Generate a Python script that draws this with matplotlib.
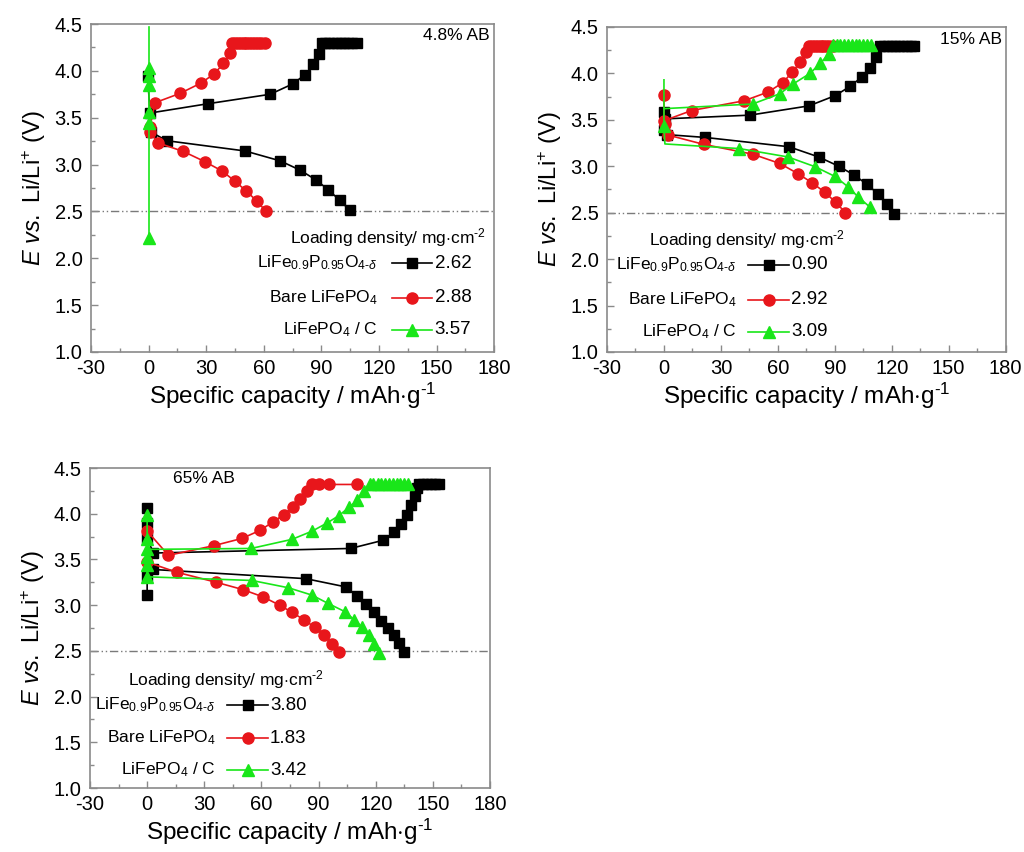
import matplotlib
matplotlib.use("Agg")
import matplotlib.pyplot as plt
from matplotlib.ticker import MultipleLocator

plt.rcParams['font.family'] = ['Liberation Sans', 'DejaVu Sans']
plt.rcParams['mathtext.fontset'] = 'custom'
plt.rcParams['mathtext.rm'] = 'Liberation Sans'
plt.rcParams['mathtext.it'] = 'Liberation Sans:italic'
plt.rcParams['axes.unicode_minus'] = False

#%%
'''charge / discharge curves read for the three carbon contents.
each curve: capacity (mAh/g) and potential (V)'''

# 4.8% AB
a_blk_chg_x = [-0.5, 0.7, 31.1, 63.3, 75, 81.6, 85.9, 88.9, 90.3, 92, 94, 96, 98, 100, 102, 104, 106, 108.5]
a_blk_chg_e = [3.95, 3.55, 3.65, 3.75, 3.86, 3.96, 4.07, 4.18, 4.30, 4.30, 4.30, 4.30, 4.30, 4.30, 4.30, 4.30, 4.30, 4.30]
a_blk_dis_x = [1.0, 9.4, 50.3, 68.5, 79, 87.3, 93.7, 99.5, 105]
a_blk_dis_e = [3.35, 3.255, 3.145, 3.04, 2.94, 2.835, 2.73, 2.62, 2.51]
a_red_chg_x = [0.7, 3.3, 16.4, 27.3, 34.3, 39, 42.5, 43.5, 45, 46.5, 48, 49.5, 51, 52.5, 54, 55.5, 57, 58.5, 60.5]
a_red_chg_e = [3.40, 3.66, 3.76, 3.87, 3.97, 4.08, 4.19, 4.30, 4.30, 4.30, 4.30, 4.30, 4.30, 4.30, 4.30, 4.30, 4.30, 4.30, 4.30]
a_red_dis_x = [0.5, 5.1, 18.1, 29.4, 38.4, 45.1, 50.8, 56.4, 61.2]
a_red_dis_e = [3.35, 3.23, 3.14, 3.03, 2.93, 2.82, 2.72, 2.61, 2.50]
a_grn_x = [0, 0, 0, 0, 0, 0, 0]
a_grn_e = [4.47, 4.03, 3.95, 3.85, 3.56, 3.44, 2.22]

# 15% AB
b_blk_chg_x = [0, 0.5, 45.3, 76.4, 90.2, 98.1, 104.2, 108.5, 111.9, 113.8, 116, 118, 120, 122, 124, 126, 128, 130, 132, 134]
b_blk_chg_e = [3.58, 3.51, 3.55, 3.65, 3.76, 3.86, 3.96, 4.06, 4.18, 4.29, 4.29, 4.29, 4.29, 4.29, 4.29, 4.29, 4.29, 4.29, 4.29, 4.29]
b_blk_dis_x = [0, 1.8, 21.7, 65.8, 81.5, 92.1, 100.2, 107, 112.9, 117.7, 121.2]
b_blk_dis_e = [3.39, 3.34, 3.31, 3.21, 3.10, 3.00, 2.905, 2.805, 2.70, 2.59, 2.49]
b_red_chg_x = [0, 0, 14.6, 42.3, 55, 62.6, 67.5, 71.7, 74.9, 76.5, 78, 79.5, 81, 82.5, 84, 85.5, 87, 89]
b_red_chg_e = [3.77, 3.49, 3.60, 3.705, 3.80, 3.90, 4.01, 4.12, 4.23, 4.29, 4.29, 4.29, 4.29, 4.29, 4.29, 4.29, 4.29, 4.29]
b_red_dis_x = [0.5, 2.3, 21, 46.7, 61, 70.6, 78.2, 84.7, 90.6, 95.6]
b_red_dis_e = [3.45, 3.335, 3.235, 3.13, 3.03, 2.92, 2.82, 2.72, 2.61, 2.50]
b_grn_chg_x = [0, 0, 46.7, 61, 68, 77, 82.4, 87, 88.9, 91, 93, 95, 97, 99, 101, 103, 105, 107, 109.3]
b_grn_chg_e = [3.93, 3.62, 3.67, 3.78, 3.885, 4.00, 4.11, 4.21, 4.30, 4.30, 4.30, 4.30, 4.30, 4.30, 4.30, 4.30, 4.30, 4.30, 4.30]
b_grn_dis_x = [0, 0, 0.5, 39.7, 65.3, 79.6, 90.1, 96.9, 102.3, 108.5]
b_grn_dis_e = [3.62, 3.43, 3.24, 3.19, 3.10, 2.995, 2.89, 2.78, 2.67, 2.56]

# 65% AB
c_blk_chg_x = [0, 0, 0, 3.3, 106.8, 124, 129.6, 133.2, 136.3, 138.4, 140.5, 141.9, 142.8, 145, 147, 149, 151, 153.3]
c_blk_chg_e = [4.06, 3.90, 3.73, 3.57, 3.62, 3.71, 3.80, 3.89, 3.99, 4.09, 4.19, 4.28, 4.32, 4.32, 4.32, 4.32, 4.32, 4.32]
c_blk_dis_x = [0, 0, 3.3, 83.2, 104.2, 110.4, 114.7, 119.1, 122.6, 126.7, 129.6, 132.3, 134.9]
c_blk_dis_e = [3.11, 3.32, 3.39, 3.29, 3.20, 3.10, 3.01, 2.92, 2.83, 2.75, 2.67, 2.585, 2.49]
c_red_chg_x = [0, 11.2, 34.9, 49.8, 59.5, 66, 71.8, 76.7, 80.2, 83.7, 86.7, 90, 95.4, 110.4, 113]
c_red_chg_e = [3.81, 3.545, 3.65, 3.73, 3.82, 3.91, 3.99, 4.075, 4.16, 4.245, 4.32, 4.32, 4.32, 4.32, 4.32]
c_red_dis_x = [0, 15.6, 36.3, 50.3, 60.9, 69.5, 76.2, 82.3, 87.9, 92.8, 97.2, 100.7]
c_red_dis_e = [3.47, 3.36, 3.25, 3.17, 3.09, 3.00, 2.92, 2.84, 2.76, 2.67, 2.58, 2.49]
c_grn_chg_x = [0, 0, 0, 54.6, 76.1, 86.7, 94.6, 100.7, 106, 110.4, 113.9, 117, 118.8, 121, 123, 125, 127, 129, 131, 133, 135, 137.2]
c_grn_chg_e = [3.99, 3.72, 3.61, 3.62, 3.72, 3.81, 3.90, 3.98, 4.07, 4.15, 4.245, 4.32, 4.33, 4.33, 4.33, 4.33, 4.33, 4.33, 4.33, 4.33, 4.33, 4.33]
c_grn_dis_x = [0, 0, 0, 55, 74.2, 86.5, 94.9, 103.7, 108.8, 112.8, 116.3, 119.3, 121.6]
c_grn_dis_e = [3.53, 3.44, 3.31, 3.27, 3.19, 3.11, 3.02, 2.93, 2.84, 2.76, 2.67, 2.58, 2.48]

names = ['LiFe$_{0.9}$P$_{0.95}$O$_{4\\text{-}\\delta}$', 'Bare LiFePO$_4$', 'LiFePO$_4$ / C']
a_loading = ['2.62', '2.88', '3.57']
b_loading = ['0.90', '2.92', '3.09']
c_loading = ['3.80', '1.83', '3.42']
tags = ['4.8% AB', '15% AB', '65% AB']

#%%
blk = dict(color='black', marker='s', ms=7, lw=1.2, mec='black', mfc='black')
red = dict(color='#e8161b', marker='o', ms=8, lw=1.2, mec='#e8161b', mfc='#e8161b')
grn = dict(color='#19e619', marker='^', ms=8, lw=1.2, mec='#19e619', mfc='#19e619')
styles = [blk, red, grn]
frame = '#8a8a8a'


def setup(ax):
    ax.set_xlim(-30, 180)
    ax.set_ylim(1.0, 4.5)
    ax.xaxis.set_major_locator(MultipleLocator(30))
    ax.xaxis.set_minor_locator(MultipleLocator(15))
    ax.yaxis.set_major_locator(MultipleLocator(0.5))
    ax.yaxis.set_minor_locator(MultipleLocator(0.25))
    ax.yaxis.set_major_formatter(plt.FormatStrFormatter('%.1f'))
    ax.tick_params(which='both', direction='in', color=frame, labelsize=14.5, top=False, right=False)
    ax.tick_params(which='major', length=5, width=1)
    ax.tick_params(which='minor', length=3, width=1)
    ax.tick_params(axis='x', pad=5)
    ax.tick_params(axis='y', pad=6)
    for s in ax.spines.values():
        s.set_color(frame)
        s.set_linewidth(1.2)
    ax.axhline(2.5, color='#7a7a7a', lw=1, ls=(0, (6, 2, 1, 2, 1, 2)), zorder=1)
    ax.set_xlabel('Specific capacity / mAh$\\cdot$g$^{\\text{-}1}$', fontsize=17.5, labelpad=2)
    ax.set_ylabel('$\\mathit{E}$ $\\mathit{vs.}$ Li/Li$^{+}$ (V)', fontsize=17, labelpad=5)


def key(ax, x0, y_title, rows, loading):
    # hand made legend: name, sample line, loading density
    x_lbl, x_a, x_b, x_val = x0
    ax.text(x_lbl + 0.02, y_title, 'Loading density/ mg$\\cdot$cm$^{\\text{-}2}$', transform=ax.transAxes,
            fontsize=12.5, ha='center', va='center')
    for i in range(3):
        y = rows[i]
        ax.text(x_lbl - 0.005, y, names[i], transform=ax.transAxes, fontsize=12.5, ha='right', va='center')
        ax.plot([x_a, (x_a + x_b) / 2, x_b], [y, y, y], transform=ax.transAxes, markevery=[1],
                clip_on=False, **styles[i])
        ax.text(x_val, y, loading[i], transform=ax.transAxes, fontsize=13.5, ha='left', va='center')


fig = plt.figure(figsize=(10.24, 8.52), dpi=100)
ax1 = fig.add_axes([0.0889, 0.5869, 0.3936, 0.3849])
ax2 = fig.add_axes([0.5928, 0.5869, 0.3892, 0.3815])
ax3 = fig.add_axes([0.0879, 0.0751, 0.3906, 0.3756])

# 4.8% AB
setup(ax1)
ax1.plot(a_blk_chg_x, a_blk_chg_e, **blk)
ax1.plot(a_blk_dis_x, a_blk_dis_e, **blk)
ax1.plot(a_red_chg_x, a_red_chg_e, **red)
ax1.plot(a_red_dis_x, a_red_dis_e, **red)
ax1.plot(a_grn_x, a_grn_e, markevery=[1, 2, 3, 4, 5, 6], **grn)
ax1.text(0.99, 0.966, tags[0], transform=ax1.transAxes, fontsize=12.5, ha='right', va='center')
key(ax1, (0.717, 0.747, 0.846, 0.853), 0.350, [0.271, 0.165, 0.067], a_loading)

# 15% AB
setup(ax2)
ax2.plot(b_blk_chg_x, b_blk_chg_e, markevery=list(range(0, 19)), **blk)
ax2.plot(b_blk_dis_x, b_blk_dis_e, **blk)
ax2.plot(b_red_chg_x, b_red_chg_e, **red)
ax2.plot(b_red_dis_x, b_red_dis_e, **red)
ax2.plot(b_grn_chg_x, b_grn_chg_e, markevery=list(range(2, 19)), **grn)
ax2.plot(b_grn_dis_x, b_grn_dis_e, markevery=[1] + list(range(3, 10)), **grn)
ax2.text(0.99, 0.96, tags[1], transform=ax2.transAxes, fontsize=12.5, ha='right', va='center')
key(ax2, (0.331, 0.354, 0.457, 0.462), 0.345, [0.268, 0.160, 0.062], b_loading)

# 65% AB
setup(ax3)
ax3.plot(c_blk_chg_x, c_blk_chg_e, **blk)
ax3.plot(c_blk_dis_x, c_blk_dis_e, **blk)
ax3.plot(c_red_chg_x, c_red_chg_e, markevery=list(range(0, 14)), **red)
ax3.plot(c_red_dis_x, c_red_dis_e, **red)
ax3.plot(c_grn_chg_x, c_grn_chg_e, **grn)
ax3.plot(c_grn_dis_x, c_grn_dis_e, **grn)
ax3.text(0.2075, 0.968, tags[2], transform=ax3.transAxes, fontsize=12.5, ha='left', va='center')
key(ax3, (0.32, 0.343, 0.445, 0.45), 0.3375, [0.259, 0.156, 0.056], c_loading)

fig.savefig('out.png', dpi=100)
